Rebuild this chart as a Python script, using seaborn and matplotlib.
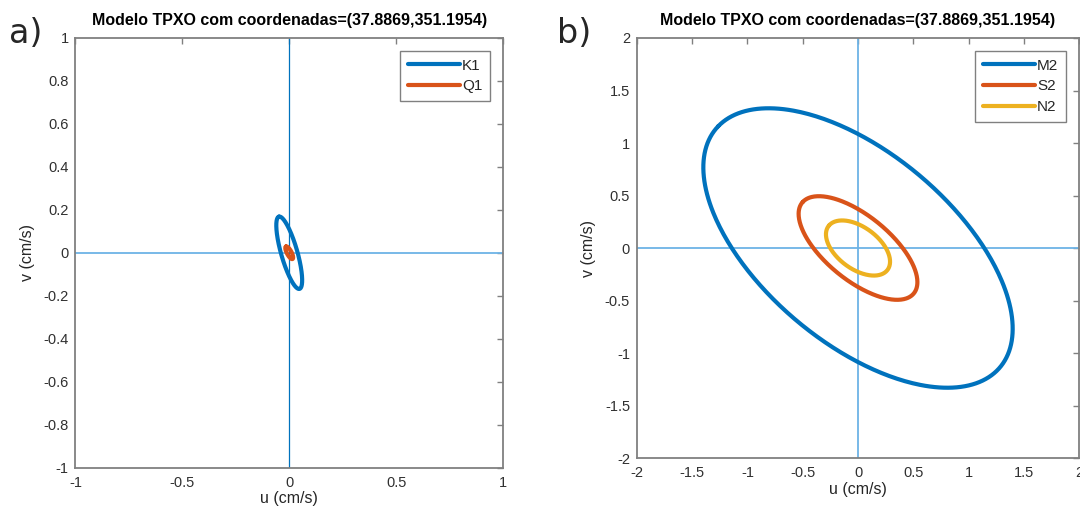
import numpy as np
import pandas as pd
import seaborn as sns
import matplotlib.pyplot as plt

# tidal ellipse parameters (cm/s, degrees)
const_a = ['K1', 'Q1']
major_a = [0.175, 0.033]
minor_a = [0.038, 0.011]
incl_a = [106.0, 118.0]

const_b = ['M2', 'S2', 'N2']
major_b = [1.716, 0.665, 0.339]
minor_b = [0.886, 0.300, 0.195]
incl_b = [137.5, 138.7, 140.7]

title = 'Modelo TPXO com coordenadas=(37.8869,351.1954)'
ticks_a_x = [-1, -0.5, 0, 0.5, 1]
ticks_a_y = [-1, -0.8, -0.6, -0.4, -0.2, 0, 0.2, 0.4, 0.6, 0.8, 1]
ticks_b = [-2, -1.5, -1, -0.5, 0, 0.5, 1, 1.5, 2]

colors = ['#0072BD', '#D95319', '#EDB120']


def ellipse_df(names, major, minor, incl):
    t = np.linspace(0, 2 * np.pi, 361)
    rows = []
    for n, a, b, phi in zip(names, major, minor, incl):
        p = np.deg2rad(phi)
        u = a * np.cos(t) * np.cos(p) - b * np.sin(t) * np.sin(p)
        v = a * np.cos(t) * np.sin(p) + b * np.sin(t) * np.cos(p)
        rows.append(pd.DataFrame({'u': u, 'v': v, 'const': n}))
    return pd.concat(rows, ignore_index=True)


def style_ax(ax, lim, xt, yt):
    ax.set_xlim(-lim, lim)
    ax.set_ylim(-lim, lim)
    ax.set_xticks(xt)
    ax.set_yticks(yt)
    ax.set_xticklabels([f'{x:g}' for x in xt])
    ax.set_yticklabels([f'{y:g}' for y in yt])
    ax.tick_params(direction='in', top=True, right=True, length=4, width=1,
                   color='#808080', labelcolor='#303030', labelsize=10.5)
    ax.tick_params(axis='x', pad=6)
    ax.tick_params(axis='y', pad=5)
    for s in ax.spines.values():
        s.set_color('#808080')
        s.set_linewidth(1.3)
    ax.set_xlabel('u (cm/s)', fontsize=11.5, color='#262626', labelpad=1)
    ax.set_ylabel('v (cm/s)', fontsize=11.5, color='#262626', labelpad=6)
    ax.set_title(title, fontsize=11.5, fontweight='bold', color='black', pad=9)
    ax.grid(False)


sns.set_style('white')
plt.rcParams['font.family'] = ['Liberation Sans', 'DejaVu Sans']
plt.rcParams['axes.unicode_minus'] = False

lw = 3.0
fig = plt.figure(figsize=(10.8, 5.08), dpi=100)
ax1 = fig.add_axes([0.0699, 0.0797, 0.3958, 0.8455])
ax2 = fig.add_axes([0.5898, 0.0984, 0.4093, 0.8268])

# panel a
ax1.axhline(0, color='#6DB3E6', lw=1.3, zorder=1)
ax1.axvline(0, color='#0072BD', lw=0.9, zorder=1)
dfa = ellipse_df(const_a, major_a, minor_a, incl_a)
sns.lineplot(data=dfa, x='u', y='v', hue='const', palette=colors[:2], sort=False,
             estimator=None, units='const', lw=lw, ax=ax1, zorder=3)
style_ax(ax1, 1, ticks_a_x, ticks_a_y)

# panel b
ax2.axhline(0, color='#6DB3E6', lw=1.3, zorder=1)
ax2.axvline(0, color='#6DB3E6', lw=1.3, zorder=1)
dfb = ellipse_df(const_b, major_b, minor_b, incl_b)
sns.lineplot(data=dfb, x='u', y='v', hue='const', palette=colors, sort=False,
             estimator=None, units='const', lw=lw, ax=ax2, zorder=3)
style_ax(ax2, 2, ticks_b, ticks_b)

for ax in (ax1, ax2):
    leg = ax.legend(loc='upper right', title=None, fontsize=11, fancybox=False,
                    edgecolor='#808080', framealpha=1, handlelength=3.4,
                    handletextpad=0.15, borderaxespad=0.85, borderpad=0.5,
                    labelspacing=0.45)
    leg.get_frame().set_linewidth(1.0)
    for line in leg.get_lines():
        line.set_linewidth(lw)

fig.text(0.008, 0.935, 'a)', fontsize=24, family='DejaVu Sans', va='center')
fig.text(0.516, 0.935, 'b)', fontsize=24, family='DejaVu Sans', va='center')

fig.savefig('out.png', dpi=100)
